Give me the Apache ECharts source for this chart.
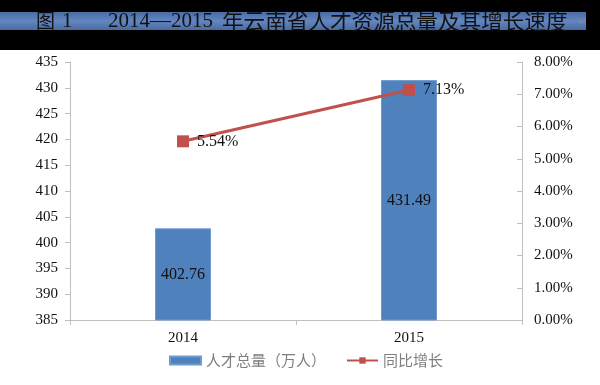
<!DOCTYPE html>
<html><head><meta charset="utf-8">
<script src="https://cdn.jsdelivr.net/npm/echarts@6/dist/echarts.min.js"></script>
<style>html,body{margin:0;padding:0;background:#fff}#c{width:600px;height:385px}</style>
</head><body><div id="c"></div>
<script>
var categories = ['2014', '2015'];
var totalTalent = [402.76, 431.49];
var growthRate = [5.54, 7.13];
var titleParts = ['图', '1', '2014—2015', '年云南省人才资源总量及其增长速度'];

var chart = echarts.init(document.getElementById('c'));
var serif = '"Liberation Serif", "Times New Roman", serif';
var axisCol = '#bfbfbf';
chart.setOption({
  backgroundColor: '#fff',
  animation: false,
  graphic: [
    {type: 'rect', shape: {x: 0, y: 0, width: 600, height: 50}, style: {fill: '#000'}, z: 0},
    {type: 'rect', shape: {x: 0, y: 12, width: 586, height: 18},
      style: {fill: new echarts.graphic.LinearGradient(0, 0, 0, 1, [
        {offset: 0, color: '#4a6ca3'}, {offset: 0.5, color: '#6286c0'}, {offset: 1, color: '#4a6ca3'}])}, z: 1},
    {type: 'text', x: 36, y: 21, z: 2,
      style: {text: titleParts[0], fill: '#111', font: '19px "Noto Sans CJK SC", sans-serif', verticalAlign: 'middle'}},
    {type: 'text', x: 62, y: 21, z: 2,
      style: {text: titleParts[1], fill: '#111', font: '21px "Liberation Serif", serif', verticalAlign: 'middle'}},
    {type: 'text', x: 108, y: 21, z: 2,
      style: {text: titleParts[2], fill: '#111', font: '21px "Liberation Serif", serif', verticalAlign: 'middle'}},
    {type: 'text', x: 222, y: 21, z: 2,
      style: {text: titleParts[3], fill: '#111', font: '21.6px "Noto Sans CJK SC", sans-serif', verticalAlign: 'middle'}},
    {type: 'text', x: 578, y: 22, z: 2,
      style: {text: '↵', fill: '#8a8a8a', font: '12px "DejaVu Sans", sans-serif', verticalAlign: 'middle'}}
  ],
  grid: {left: 70, right: 78, top: 62, bottom: 65},
  legend: {
    bottom: 12, left: 164, itemGap: 20, itemWidth: 31, itemHeight: 8,
    textStyle: {color: '#7f7f7f', fontSize: 15, fontFamily: '"Noto Sans CJK SC", sans-serif'},
    data: [{name: '人才总量（万人）', icon: 'rect'}, {name: '同比增长'}]
  },
  xAxis: {
    type: 'category', data: categories,
    axisLine: {lineStyle: {color: axisCol}},
    axisTick: {show: true, length: 5, lineStyle: {color: axisCol}},
    axisLabel: {color: '#111', fontSize: 15, fontFamily: serif, margin: 11}
  },
  yAxis: [{
    type: 'value', min: 385, max: 435, interval: 5, position: 'left',
    splitLine: {show: false},
    axisLine: {show: true, lineStyle: {color: axisCol}},
    axisTick: {show: true, length: 5, lineStyle: {color: axisCol}},
    axisLabel: {color: '#111', fontSize: 15, fontFamily: serif, margin: 12}
  }, {
    type: 'value', min: 0, max: 8, interval: 1, position: 'right',
    splitLine: {show: false},
    axisLine: {show: true, lineStyle: {color: axisCol}},
    axisTick: {show: true, inside: true, length: 5, lineStyle: {color: axisCol}},
    axisLabel: {color: '#111', fontSize: 15, fontFamily: serif, margin: 12,
      formatter: function (v) { return v.toFixed(2) + '%'; }}
  }],
  series: [{
    name: '人才总量（万人）', type: 'bar', data: totalTalent, barWidth: 56,
    itemStyle: {color: '#4f81bd', borderColor: '#6f9ad0', borderWidth: 1},
    label: {show: true, position: 'inside', color: '#111', fontSize: 16, fontFamily: serif,
      formatter: function (p) { return p.value.toFixed(2); }}
  }, {
    name: '同比增长', type: 'line', yAxisIndex: 1, data: growthRate,
    lineStyle: {color: '#c0504d', width: 3},
    itemStyle: {color: '#c0504d'},
    symbol: 'rect', symbolSize: 12,
    label: {show: true, position: 'right', distance: 8, color: '#111', fontSize: 16, fontFamily: serif,
      formatter: function (p) { return p.value.toFixed(2) + '%'; }}
  }]
});
</script></body></html>
